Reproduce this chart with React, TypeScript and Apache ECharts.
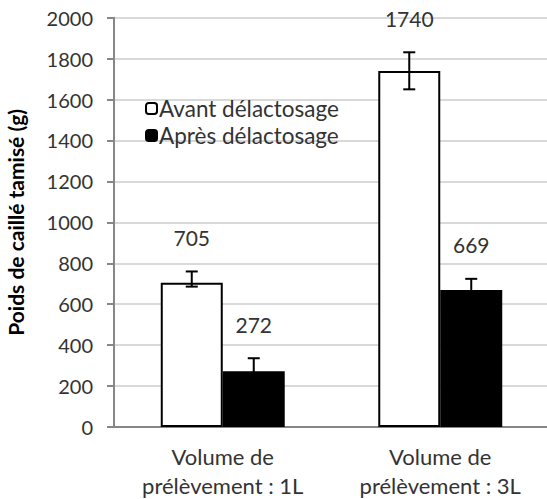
import React, { useEffect, useRef } from "react";
import * as echarts from "echarts";

const categories = ["Volume de\nprélèvement : 1L", "Volume de\nprélèvement : 3L"];
const seriesNames = ["Avant délactosage", "Après délactosage"];
const avant = [705, 1740];
const apres = [272, 669];
const avantErrLow = [686, 1650];
const avantErrHigh = [760, 1831];
const apresErrLow = [208, 614];
const apresErrHigh = [336, 724];
const yTicks = { min: 0, max: 2000, interval: 200 };

const FONT = "Lato, 'Open Sans', sans-serif";
const GAP = 0.43;
const TXT = "#333";

function errSeries(values: number[], lows: number[], highs: number[], side: number) {
  return {
    type: "custom",
    silent: true,
    z: 5,
    data: values.map((v, i) => [i, lows[i], highs[i], v]),
    renderItem: (params: any, api: any) => {
      const xi = api.value(0);
      const lo = api.value(1);
      const hi = api.value(2);
      const v = api.value(3);
      const band = api.size([1, 0])[0];
      const barW = (band * (1 - GAP)) / 2;
      const top = api.coord([xi, hi]);
      const bot = api.coord([xi, lo]);
      const x = top[0] + (side * barW) / 2;
      const cap = 6;
      const ls = { stroke: "#000", lineWidth: 2 };
      return {
        type: "group",
        children: [
          { type: "line", shape: { x1: x, y1: top[1], x2: x, y2: bot[1] }, style: ls },
          { type: "line", shape: { x1: x - cap, y1: top[1], x2: x + cap, y2: top[1] }, style: ls },
          { type: "line", shape: { x1: x - cap, y1: bot[1], x2: x + cap, y2: bot[1] }, style: ls },
          {
            type: "text",
            style: {
              text: String(v),
              x: x,
              y: top[1] - 34,
              fill: TXT,
              fontSize: 21,
              fontFamily: FONT,
              align: "center",
              verticalAlign: "middle",
            },
          },
        ],
      };
    },
  };
}

export default function App() {
  const ref = useRef<HTMLDivElement>(null);
  useEffect(() => {
    if (!ref.current) return;
    const chart = echarts.init(ref.current, null, { renderer: "svg" });
    chart.setOption({
      animation: false,
      backgroundColor: "#fff",
      textStyle: { fontFamily: FONT },
      grid: { left: 114, top: 17.7, bottom: 72, right: -2, outerBoundsMode: "none", containLabel: false },
      legend: {
        data: seriesNames,
        orient: "vertical",
        left: 145,
        top: 97,
        padding: 0,
        itemWidth: 11,
        itemHeight: 11,
        itemGap: 4,
        textStyle: { fontSize: 22.5, color: TXT, fontFamily: FONT, padding: [0, 0, 0, -3], lineHeight: 22 },
      },
      xAxis: {
        type: "category",
        data: categories,
        axisLine: { lineStyle: { color: "#868686", width: 2 } },
        axisTick: { length: 7, lineStyle: { color: "#868686", width: 2 } },
        axisLabel: { interval: 0, fontSize: 22, color: TXT, lineHeight: 29, margin: 15, fontFamily: FONT },
      },
      yAxis: {
        type: "value",
        min: yTicks.min,
        max: yTicks.max,
        interval: yTicks.interval,
        name: "Poids de caillé tamisé (g)",
        nameLocation: "middle",
        nameRotate: 90,
        nameGap: 88,
        nameTextStyle: { fontSize: 21, fontWeight: "bold", color: "#000", fontFamily: FONT },
        axisLine: { show: true, lineStyle: { color: "#868686", width: 2 } },
        axisTick: { show: true, length: 7, lineStyle: { color: "#868686", width: 2 } },
        axisLabel: { fontSize: 20, color: TXT, margin: 21, fontFamily: FONT, formatter: (v: number) => String(v) },
        splitLine: { lineStyle: { color: "#d9d9d9", width: 2 } },
      },
      series: [
        {
          name: seriesNames[0],
          type: "bar",
          data: avant,
          barGap: "0%",
          barCategoryGap: GAP * 100 + "%",
          itemStyle: { color: "#fff", borderColor: "#000", borderWidth: 2 },
        },
        {
          name: seriesNames[1],
          type: "bar",
          data: apres,
          itemStyle: { color: "#000", borderColor: "#000", borderWidth: 2 },
        },
        errSeries(avant, avantErrLow, avantErrHigh, -1),
        errSeries(apres, apresErrLow, apresErrHigh, 1),
      ],
    });
    return () => chart.dispose();
  }, []);
  return (
    <div
      ref={ref}
      style={{ position: "fixed", left: 0, top: 0, width: 547, height: 499 }}
    />
  );
}
